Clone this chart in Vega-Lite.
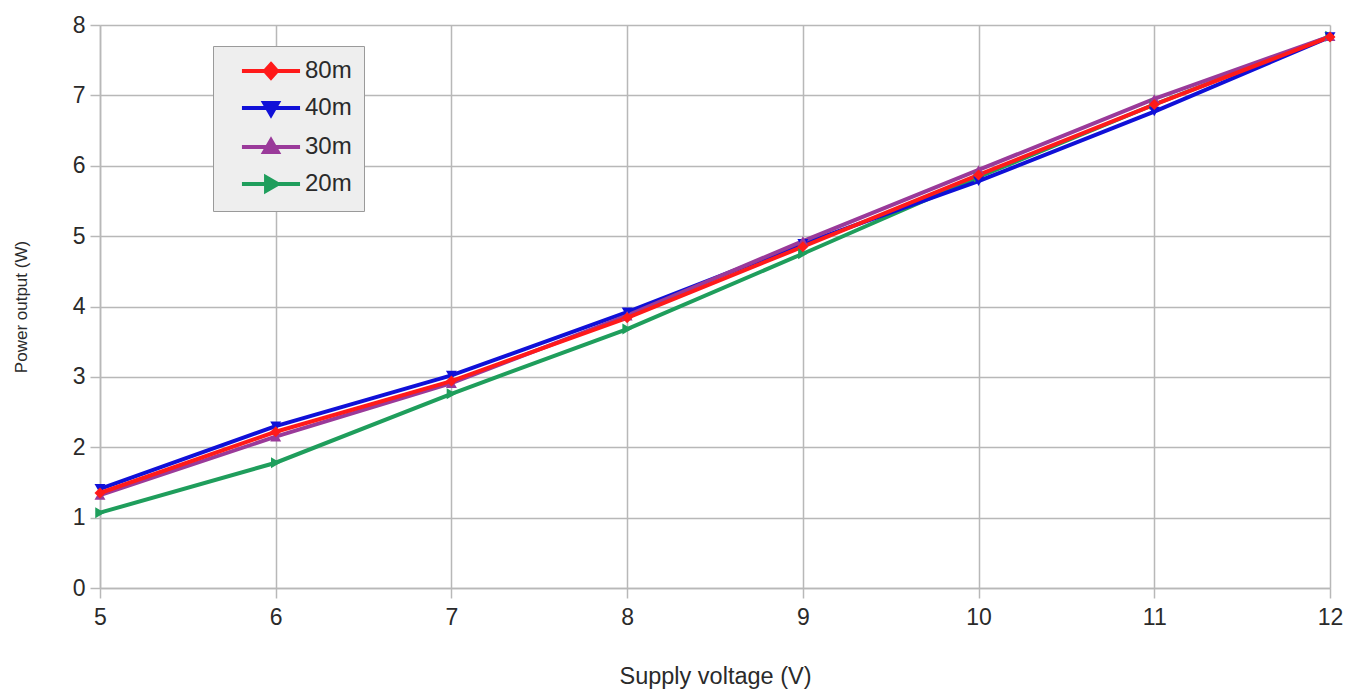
{
  "$schema": "https://vega.github.io/schema/vega-lite/v6.json",
  "width": 1230,
  "height": 563,
  "autosize": {"type": "none"},
  "padding": {"left": 100, "top": 25, "right": 30, "bottom": 103},
  "background": "white",
  "config": {
    "font": "Liberation Sans",
    "view": {"stroke": null},
    "axis": {
      "labelFont": "Liberation Sans",
      "titleFont": "Liberation Sans",
      "labelColor": "#2a2a2a",
      "titleColor": "#2a2a2a",
      "labelFontSize": 23,
      "titleFontWeight": "normal",
      "gridColor": "#b8b8b8",
      "gridWidth": 1.5,
      "domainColor": "#b8b8b8",
      "domainWidth": 1.5,
      "tickColor": "#b8b8b8",
      "tickWidth": 1.5,
      "tickSize": 10,
      "labelOverlap": false,
      "labelFlush": false
    }
  },
  "data": {
    "values": [
      {"v": 5, "p": 1.07, "s": "20m"}, {"v": 6, "p": 1.78, "s": "20m"}, {"v": 7, "p": 2.76, "s": "20m"}, {"v": 8, "p": 3.68, "s": "20m"},
      {"v": 9, "p": 4.75, "s": "20m"}, {"v": 10, "p": 5.84, "s": "20m"}, {"v": 11, "p": 6.87, "s": "20m"}, {"v": 12, "p": 7.84, "s": "20m"},
      {"v": 5, "p": 1.41, "s": "40m"}, {"v": 6, "p": 2.30, "s": "40m"}, {"v": 7, "p": 3.02, "s": "40m"}, {"v": 8, "p": 3.92, "s": "40m"},
      {"v": 9, "p": 4.89, "s": "40m"}, {"v": 10, "p": 5.78, "s": "40m"}, {"v": 11, "p": 6.77, "s": "40m"}, {"v": 12, "p": 7.83, "s": "40m"},
      {"v": 5, "p": 1.32, "s": "30m"}, {"v": 6, "p": 2.15, "s": "30m"}, {"v": 7, "p": 2.91, "s": "30m"}, {"v": 8, "p": 3.87, "s": "30m"},
      {"v": 9, "p": 4.93, "s": "30m"}, {"v": 10, "p": 5.94, "s": "30m"}, {"v": 11, "p": 6.95, "s": "30m"}, {"v": 12, "p": 7.84, "s": "30m"},
      {"v": 5, "p": 1.35, "s": "80m"}, {"v": 6, "p": 2.22, "s": "80m"}, {"v": 7, "p": 2.94, "s": "80m"}, {"v": 8, "p": 3.84, "s": "80m"},
      {"v": 9, "p": 4.85, "s": "80m"}, {"v": 10, "p": 5.87, "s": "80m"}, {"v": 11, "p": 6.87, "s": "80m"}, {"v": 12, "p": 7.83, "s": "80m"}
    ]
  },
  "encoding": {
    "x": {
      "field": "v", "type": "quantitative",
      "scale": {"domain": [5, 12], "nice": false, "zero": false},
      "axis": {"title": "Supply voltage (V)", "values": [5,6,7,8,9,10,11,12], "labelPadding": 8, "titlePadding": 35, "titleFontSize": 23.5}
    },
    "y": {
      "field": "p", "type": "quantitative",
      "scale": {"domain": [0, 8], "nice": false},
      "axis": {"title": "Power output (W)", "values": [0,1,2,3,4,5,6,7,8], "labelPadding": 5, "titlePadding": 42, "titleFontSize": 17}
    },
    "color": {
      "field": "s", "type": "nominal",
      "scale": {"domain": ["80m", "40m", "30m", "20m"], "range": ["#ff1a1a", "#1010d8", "#9a3a9a", "#1f9e5c"]},
      "legend": {
        "title": null,
        "orient": "none",
        "legendX": 113,
        "legendY": 21,
        "fillColor": "#eeeeee",
        "strokeColor": "#9a9a9a",
        "padding": 12,
        "labelFont": "Liberation Sans",
        "labelFontSize": 24,
        "labelColor": "#2a2a2a",
        "symbolSize": 484,
        "symbolOffset": 33,
        "rowPadding": 9,
        "labelOffset": 21,
        "symbolStrokeWidth": 4,
        "encode": {
          "legend": {
            "update": {"width": {"value": 167}}
          },
          "symbols": {
            "update": {
              "shape": {"signal": "datum.value === '80m' ? 'M-2.64,0H2.64M0,-0.62L0.55,0L0,0.62L-0.55,0Z' : datum.value === '40m' ? 'M-2.64,0H2.64M-0.62,-0.45L0.62,-0.45L0,0.62Z' : datum.value === '30m' ? 'M-2.64,0H2.64M-0.62,0.45L0.62,0.45L0,-0.62Z' : 'M-2.64,0H2.64M-0.45,-0.62L0.62,0L-0.45,0.62Z'"},
              "stroke": {"signal": "datum.value === '80m' ? '#ff1a1a' : datum.value === '40m' ? '#1010d8' : datum.value === '30m' ? '#9a3a9a' : '#1f9e5c'"},
              "fill": {"signal": "datum.value === '80m' ? '#ff1a1a' : datum.value === '40m' ? '#1010d8' : datum.value === '30m' ? '#9a3a9a' : '#1f9e5c'"},
              "strokeWidth": {"value": 4},
              "opacity": {"value": 1}
            }
          }
        }
      }
    }
  },
  "layer": [
    {
      "mark": {"type": "line", "strokeWidth": 4},
      "encoding": {
        "order": {"field": "v", "type": "quantitative"}
      }
    },
    {
      "transform": [{"filter": "datum.s === '20m'"}],
      "mark": {"type": "point", "filled": true, "opacity": 1, "size": 120, "shape": "triangle-right"}
    },
    {
      "transform": [{"filter": "datum.s === '40m'"}],
      "mark": {"type": "point", "filled": true, "opacity": 1, "size": 120, "shape": "triangle-down"}
    },
    {
      "transform": [{"filter": "datum.s === '30m'"}],
      "mark": {"type": "point", "filled": true, "opacity": 1, "size": 120, "shape": "triangle-up"}
    },
    {
      "transform": [{"filter": "datum.s === '80m'"}],
      "mark": {"type": "point", "filled": true, "opacity": 1, "size": 120, "shape": "diamond"}
    }
  ]
}
